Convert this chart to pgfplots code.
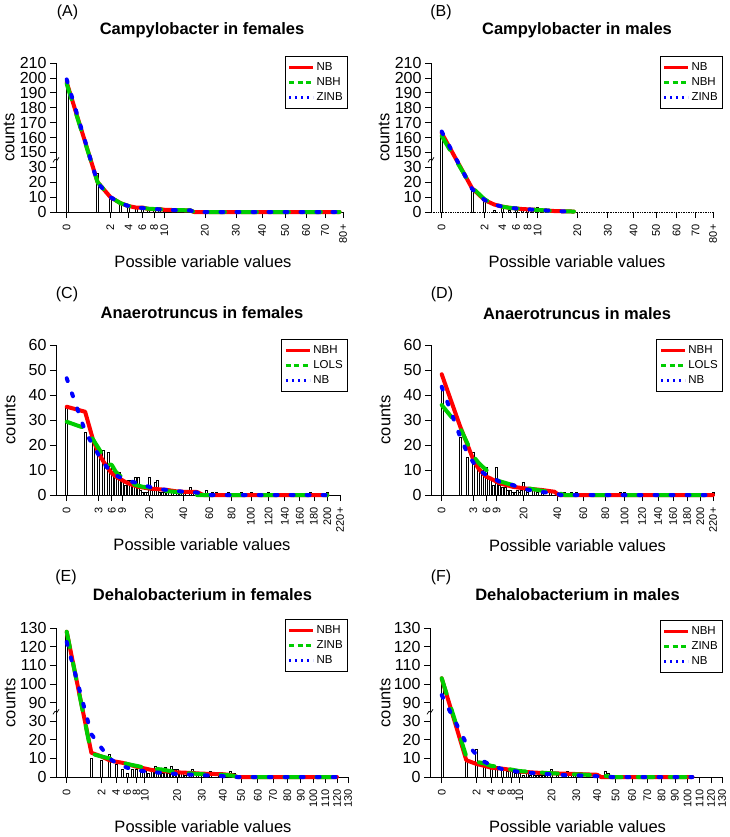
\documentclass[border=0pt]{standalone}
\usepackage{fontspec}
\setmainfont{Liberation Sans}
\usepackage{pgfplots}
\pgfplotsset{compat=1.18}

\definecolor{rred}{RGB}{255,0,0}
\definecolor{rgreen}{RGB}{0,205,0}
\definecolor{rblue}{RGB}{0,0,255}

\pgfplotsset{
  panel/.style={
    scale only axis,
    axis lines*=left,
    clip=false,
    tick align=outside,
    major tick length=6pt,
    axis line style={line width=0.7pt},
    every tick/.append style={line width=0.7pt, black},
    x coord trafo/.code={\pgfmathparse{sign(##1)*sqrt(abs(##1))}},
    xticklabel shift=3pt,
    xticklabel style={rotate=90, anchor=east, font=\fontsize{11}{13}\selectfont},
    yticklabel style={font=\fontsize{16}{18}\selectfont},
    legend style={draw=black, line width=0.6pt, fill=white,
      font=\fontsize{11.5}{14}\selectfont, inner xsep=3pt, inner ysep=4.5pt,
      row sep=1.5pt, anchor=north east},
    legend cell align=left,
    legend image code/.code={\draw[##1] (0pt,0pt) -- (24pt,0pt);},
  },
  hist/.style={ybar, bar width=2pt, fill=white, draw=black, line width=0.4pt, forget plot},
  cR/.style={rred, line width=4pt, line cap=round, line join=round, mark=none, forget plot},
  cG/.style={rgreen, line width=4pt, line cap=round, line join=round,
    dash pattern=on 16pt off 16pt, mark=none, forget plot},
  cB/.style={rblue, line width=4pt, line cap=round, line join=round,
    dash pattern=on 3pt off 13pt, mark=none, forget plot},
  lR/.style={rred, line width=2.6pt},
  lG/.style={rgreen, line width=2.6pt, dash pattern=on 5pt off 3.5pt},
  lB/.style={rblue, line width=2.6pt, dash pattern=on 1.8pt off 4.2pt},
}

% small zigzag marking the broken y axis
\newcommand{\brk}[1]{\draw[line width=0.7pt]
  ([xshift=-3pt,yshift=-2.5pt]rel axis cs:0,#1) -- ([xshift=-1pt,yshift=0.5pt]rel axis cs:0,#1)
  -- ([xshift=1pt,yshift=-0.5pt]rel axis cs:0,#1) -- ([xshift=3pt,yshift=2.5pt]rel axis cs:0,#1);}

\begin{document}
\begin{tikzpicture}
\useasboundingbox (0pt,0pt) rectangle (730pt,-837pt);

% ---------------- (A)
\begin{axis}[panel, at={(56pt,-212pt)}, anchor=south west, width=287pt, height=149pt,
  xmin=-0.120, xmax=80, ymin=0, ymax=210,
  y coord trafo/.code={\pgfmathparse{#1>100?#1-110:#1}},
  xtick={0,2,4,6,8,10,20,30,40,50,60,70,80},
  xticklabels={0,2,4,6,8,10,20,30,40,50,60,70,80+},
  ytick={0,10,20,30,150,160,170,180,190,200,210},
  yticklabels={0,10,20,30,150,160,170,180,190,200,210},
  legend style={at={(1,1)}, xshift=5pt, yshift=7pt}]
\addplot[hist] coordinates {(0,196) (1,26) (2,10) (3,5) (4,3) (5,3) (6,2) (7,2) (8,1) (9,1) (10,1) (11,1) (12,1) (14,1) (16,1)};
\addplot[cR] coordinates {(0,197) (1,20) (2,10) (3,6) (4,4) (5,3) (6,3) (7,2) (8,2) (9,2) (10,1.5) (12,1.3) (14,1.2) (16,1.1) (17,0) (78,0)};
\addplot[cG] coordinates {(0,196) (1,20) (2,10) (3,6) (4,4) (5,3.2) (6,2.8) (7,2.2) (8,2) (9,1.8) (10,1.5) (12,1.3) (14,1.2) (16,1.1) (17,0) (78,0)};
\addplot[cB] coordinates {(0,199) (1,19.5) (2,10) (3,6) (4,4) (5,3) (6,2.7) (7,2.2) (8,2) (9,1.8) (10,1.5) (12,1.3) (14,1.2) (16,1.1) (17,0) (78,0)};
\addlegendimage{lR}\addlegendentry{NB}
\addlegendimage{lG}\addlegendentry{NBH}
\addlegendimage{lB}\addlegendentry{ZINB}
\brk{0.35}
\end{axis}

% ---------------- (B)
\begin{axis}[panel, at={(431pt,-212pt)}, anchor=south west, width=282pt, height=149pt,
  xmin=-0.124, xmax=80, ymin=0, ymax=210,
  x axis line style={densely dotted},
  y coord trafo/.code={\pgfmathparse{#1>100?#1-110:#1}},
  xtick={0,2,4,6,8,10,20,30,40,50,60,70,80},
  xticklabels={0,2,4,6,8,10,20,30,40,50,60,70,80+},
  ytick={0,10,20,30,150,160,170,180,190,200,210},
  yticklabels={0,10,20,30,150,160,170,180,190,200,210},
  legend style={at={(1,1)}, xshift=10pt, yshift=7pt}]
\addplot[hist] coordinates {(0,161) (1,14) (2,7) (3,1) (4,3) (5,1) (6,1) (7,3) (8,1) (9,1) (10,3) (11,1) (12,1)};
\addplot[cR] coordinates {(0,163) (1,16) (2,8) (3,5) (4,3.6) (5,2.8) (6,2.4) (7,2) (8,1.8) (9,1.6) (10,1.4) (12,1) (14,0.6) (19,0.3)};
\addplot[cG] coordinates {(0,161) (1,16.5) (2,8.5) (3,5) (4,3.6) (5,2.8) (6,2.4) (7,2) (8,1.8) (9,1.6) (10,1.4) (12,1) (14,0.6) (19,0.3)};
\addplot[cB] coordinates {(0,164) (1,15.5) (2,8) (3,5) (4,3.6) (5,2.8) (6,2.4) (7,2) (8,1.8) (9,1.6) (10,1.4) (12,1) (14,0.6) (19,0.3)};
\addlegendimage{lR}\addlegendentry{NB}
\addlegendimage{lG}\addlegendentry{NBH}
\addlegendimage{lB}\addlegendentry{ZINB}
\brk{0.35}
\end{axis}

% ---------------- (C)
\begin{axis}[panel, at={(56pt,-495pt)}, anchor=south west, width=284pt, height=150pt,
  xmin=-0.337, xmax=220, ymin=0, ymax=60,
  xtick={0,3,6,9,20,40,60,80,100,120,140,160,180,200,220},
  xticklabels={0,3,6,9,20,40,60,80,100,120,140,160,180,200,220+},
  ytick={0,10,20,30,40,50,60},
  yticklabels={0,10,20,30,40,50,60},
  legend style={at={(1,1)}, xshift=8pt, yshift=6pt}]
\addplot[hist] coordinates {(0,35) (1,25) (2,21) (3,18) (4,18) (5,17) (6,12) (7,10) (8,9) (9,6) (10,4) (11,6) (12,6) (13,5) (14,7) (15,7) (16,2) (17,1) (18,1) (19,1) (20,7) (21,2) (22,3) (23,5) (24,6) (25,1) (27,1) (28,1) (30,1) (33,1) (36,1) (38,1) (41,1) (45,3) (48,1) (52,1) (57,2) (62,1) (66,1) (77,1) (90,1) (100,1) (120,1) (175,1) (200,1)};
\addplot[cR] coordinates {(0,35.3) (1,33.3) (2,22.5) (3,16.7) (4,13.3) (5,10.7) (6,8.7) (7,7.5) (8,6.7) (9,6) (10,5.3) (12,4.3) (15,3.3) (20,2.6) (25,2.3) (30,2) (35,1.5) (40,1.3) (50,1.2) (55,0) (200,0)};
\addplot[cG] coordinates {(0,29.3) (1,26.7) (2,22.4) (3,18.7) (4,15.3) (5,12.5) (6,12) (7,9.5) (8,8) (9,7.3) (10,6.5) (12,5) (14,4) (17,3.3) (20,3) (25,2.3) (30,1.5) (40,1) (45,0.7) (50,0) (200,0)};
\addplot[cB] coordinates {(0,46.7) (1,25.5) (2,20) (3,16) (4,12.7) (5,10.7) (6,9) (7,8) (8,7.3) (9,6.7) (10,6) (15,4.7) (20,3.3) (25,2.4) (30,2) (40,1.3) (50,1) (57,0) (200,0)};
\addlegendimage{lR}\addlegendentry{NBH}
\addlegendimage{lG}\addlegendentry{LOLS}
\addlegendimage{lB}\addlegendentry{NB}
\end{axis}

% ---------------- (D)
\begin{axis}[panel, at={(431pt,-495pt)}, anchor=south west, width=282pt, height=150pt,
  xmin=-0.342, xmax=220, ymin=0, ymax=60,
  xtick={0,3,6,9,20,40,60,80,100,120,140,160,180,200,220},
  xticklabels={0,3,6,9,20,40,60,80,100,120,140,160,180,200,220+},
  ytick={0,10,20,30,40,50,60},
  yticklabels={0,10,20,30,40,50,60},
  legend style={at={(1,1)}, xshift=10pt, yshift=6pt}]
\addplot[hist] coordinates {(0,43) (1,23) (2,15) (3,17) (4,12) (5,10) (6,11) (7,7) (8,4) (9,11) (10,4) (11,3) (12,3) (13,2) (14,2) (15,1) (16,1) (17,2) (18,1) (19,2) (20,5) (21,2) (22,1) (25,2) (27,1) (30,2) (35,1) (40,1) (45,1) (50,1) (54,1) (95,1) (100,1) (220,1)};
\addplot[cR] coordinates {(0,48.3) (1,27.6) (2,20) (3,14) (4,10.7) (5,8.7) (6,7.3) (7,6.7) (8,6) (9,5.3) (10,4.7) (15,3.3) (20,2.7) (30,2) (38,1.3) (41,0) (220,0)};
\addplot[cG] coordinates {(0,36) (1,27) (2,20.5) (3,15.5) (4,13) (5,11.3) (6,10) (7,8) (8,7) (10,5.5) (15,4) (20,3) (30,1.7) (40,1) (45,0) (220,0)};
\addplot[cB] coordinates {(0,43.3) (1,23.5) (2,16.5) (3,13) (4,10.5) (5,9) (6,8) (8,6.7) (10,5.3) (15,4) (20,2.5) (25,1.7) (30,1.2) (40,0.5) (42,0) (220,0)};
\addlegendimage{lR}\addlegendentry{NBH}
\addlegendimage{lG}\addlegendentry{LOLS}
\addlegendimage{lB}\addlegendentry{NB}
\end{axis}

% ---------------- (E)
\begin{axis}[panel, at={(56pt,-777pt)}, anchor=south west, width=292pt, height=149pt,
  xmin=-0.188, xmax=130, ymin=0, ymax=130,
  y coord trafo/.code={\pgfmathparse{#1>60?#1-50:#1}},
  xtick={0,2,4,6,8,10,20,30,40,50,60,70,80,90,100,110,120,130},
  xticklabels={0,2,4,6,8,10,20,30,40,50,60,70,80,90,100,110,120,130},
  ytick={0,10,20,30,90,100,110,120,130},
  yticklabels={0,10,20,30,90,100,110,120,130},
  legend style={at={(1,1)}, xshift=0pt, yshift=9pt}]
\addplot[hist] coordinates {(0,126) (1,10) (2,9) (3,12) (4,7) (5,4) (6,2) (7,4) (8,4) (9,3) (10,3) (11,2) (12,3) (13,6) (14,2) (15,2) (16,5) (17,2) (18,6) (19,4) (20,4) (21,2) (22,2) (23,1) (25,1) (26,4) (28,1) (30,1) (34,3) (38,1) (44,3) (46,2) (50,1) (60,1) (81,1)};
\addplot[cR] coordinates {(0,128) (1,13) (2,11) (3,9) (4,8.2) (5,7.7) (6,7) (8,5.5) (10,4.6) (12,3.7) (15,3.2) (20,2.5) (25,2.2) (30,1.8) (40,1.5) (45,1) (48,0) (120,0)};
\addplot[cG] coordinates {(0,128) (1,12.5) (2,11) (3,10) (4,9) (5,8) (6,7) (8,6) (10,5) (15,4) (20,2.5) (30,1.5) (40,1.2) (45,0.8) (48,0) (120,0)};
\addplot[cB] coordinates {(0,122.5) (1,23) (2,15.5) (3,10) (4,7.5) (5,6) (6,5) (8,3.8) (10,3) (15,2.2) (20,1.6) (30,1) (40,0.5) (42,0) (120,0)};
\addlegendimage{lR}\addlegendentry{NBH}
\addlegendimage{lG}\addlegendentry{ZINB}
\addlegendimage{lB}\addlegendentry{NB}
\brk{0.4375}
\end{axis}

% ---------------- (F)
\begin{axis}[panel, at={(430pt,-777pt)}, anchor=south west, width=292pt, height=149pt,
  xmin=-0.227, xmax=130, ymin=0, ymax=130,
  y coord trafo/.code={\pgfmathparse{#1>60?#1-50:#1}},
  xtick={0,2,4,6,8,10,20,30,40,50,60,70,80,90,100,110,120,130},
  xticklabels={0,2,4,6,8,10,20,30,40,50,60,70,80,90,100,110,120,130},
  ytick={0,10,20,30,90,100,110,120,130},
  yticklabels={0,10,20,30,90,100,110,120,130},
  legend style={at={(1,1)}, xshift=1pt, yshift=8pt}]
\addplot[hist] coordinates {(0,102) (1,9) (2,15) (3,7) (4,5) (5,6) (6,4) (7,3) (8,4) (9,2) (10,2) (11,1) (12,2) (13,1) (14,1) (15,1) (16,1) (17,1) (18,1) (20,4) (22,1) (25,1) (26,3) (28,1) (30,1) (35,1) (44,3) (46,2) (50,1)};
\addplot[cR] coordinates {(0,103) (1,9) (2,7) (3,6) (4,5) (5,4.7) (6,4.5) (8,3.8) (10,2.9) (15,2.3) (20,2) (30,1.6) (40,1.2) (42,0) (104,0)};
\addplot[cG] coordinates {(0,103) (1,11) (2,8.2) (3,7.3) (4,6) (5,5.6) (6,4.7) (8,4) (10,3.2) (15,2.5) (20,2) (30,1.4) (40,1) (45,0.5) (48,0) (104,0)};
\addplot[cB] coordinates {(0,94) (1,18) (2,12) (3,8.2) (4,6.5) (5,5.2) (6,4.3) (8,3.4) (10,2.7) (15,2) (20,1.4) (25,1) (30,0.9) (40,0.4) (42,0) (104,0)};
\addlegendimage{lR}\addlegendentry{NBH}
\addlegendimage{lG}\addlegendentry{ZINB}
\addlegendimage{lB}\addlegendentry{NB}
\brk{0.4375}
\end{axis}

% titles, axis labels, panel letters
\tikzset{ttl/.style={font=\bfseries\fontsize{16.5}{19}\selectfont},
  lab/.style={font=\fontsize{16.5}{19}\selectfont},
  let/.style={font=\fontsize{16}{19}\selectfont}}
\node[ttl] at (202pt,-30.7pt) {Campylobacter in females};
\node[ttl] at (577pt,-30.7pt) {Campylobacter in males};
\node[ttl] at (202pt,-313pt) {Anaerotruncus in females};
\node[ttl] at (577pt,-313.5pt) {Anaerotruncus in males};
\node[ttl] at (202.5pt,-595pt) {Dehalobacterium in females};
\node[ttl] at (577.5pt,-595pt) {Dehalobacterium in males};
\node[lab] at (203pt,-262pt) {Possible variable values};
\node[lab] at (577pt,-262pt) {Possible variable values};
\node[lab] at (202pt,-545pt) {Possible variable values};
\node[lab] at (577.5pt,-545.5pt) {Possible variable values};
\node[lab] at (203pt,-826.7pt) {Possible variable values};
\node[lab] at (577.5pt,-826.7pt) {Possible variable values};
\node[lab, rotate=90] at (9pt,-137.5pt) {counts};
\node[lab, rotate=90] at (384pt,-137.5pt) {counts};
\node[lab, rotate=90] at (10pt,-420pt) {counts};
\node[lab, rotate=90] at (385pt,-420pt) {counts};
\node[lab, rotate=90] at (10pt,-703pt) {counts};
\node[lab, rotate=90] at (385pt,-703pt) {counts};
\node[let] at (67.5pt,-12pt) {(A)};
\node[let] at (441pt,-12pt) {(B)};
\node[let] at (67pt,-294pt) {(C)};
\node[let] at (442pt,-294pt) {(D)};
\node[let] at (66pt,-577pt) {(E)};
\node[let] at (441pt,-577pt) {(F)};
\end{tikzpicture}
\end{document}
